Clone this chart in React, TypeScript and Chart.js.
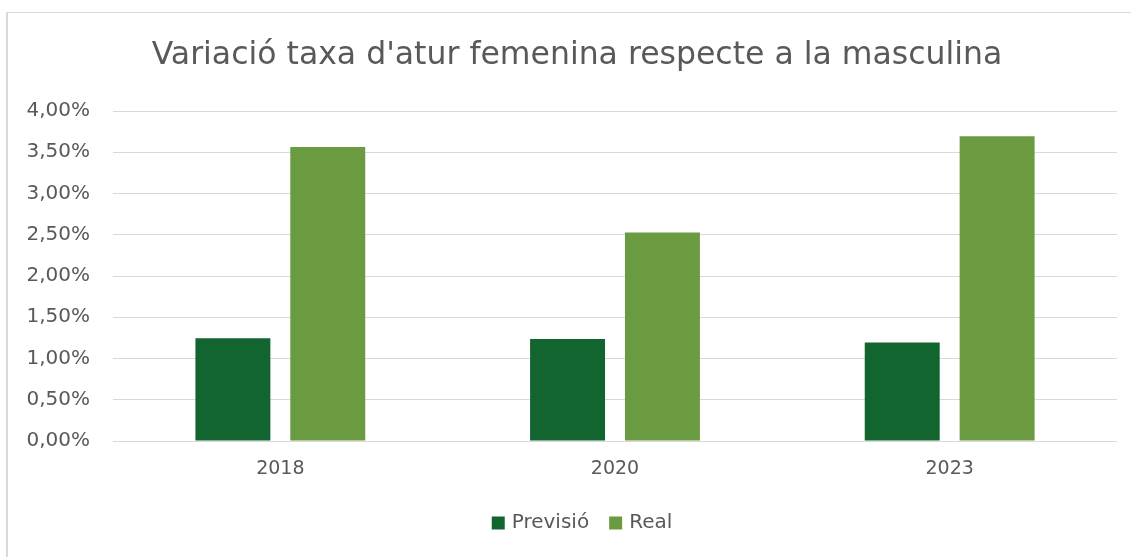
import React, { useEffect, useRef } from "react";
import { Chart, registerables } from "chart.js";

Chart.register(...registerables);

const categories = ["2018", "2020", "2023"];
const previsio = [1.244, 1.235, 1.195];
const real = [3.564, 2.527, 3.693];
const seriesNames = ["Previsió", "Real"];
const seriesColors = ["#136530", "#6A9B40"];
const titleText = "Variació taxa d'atur femenina respecte a la masculina";

const W = 1131;
const H = 557;
const FONT = "'DejaVu Sans', 'Liberation Sans', sans-serif";
const TEXT = "#595959";

const titleAndLegend = {
  id: "titleAndLegend",
  afterDraw(chart: any) {
    const ctx = chart.ctx as CanvasRenderingContext2D;
    ctx.save();
    ctx.fillStyle = TEXT;
    ctx.font = `31.5px ${FONT}`;
    ctx.textAlign = "center";
    ctx.textBaseline = "middle";
    ctx.fillText(titleText, 577, 56);

    ctx.font = `20px ${FONT}`;
    ctx.textAlign = "left";
    const box = 13;
    const gap = 7;
    const sep = 20;
    const items = chart.data.datasets.map((d: any) => ({
      label: d.label as string,
      color: d.backgroundColor as string,
      w: ctx.measureText(d.label).width,
    }));
    const total =
      items.reduce((s: number, it: any) => s + box + gap + it.w, 0) + sep * (items.length - 1);
    let x = 582 - total / 2;
    const cy = 523;
    items.forEach((it: any) => {
      ctx.fillStyle = it.color;
      ctx.fillRect(x, cy - box / 2, box, box);
      ctx.fillStyle = TEXT;
      ctx.fillText(it.label, x + box + gap, cy);
      x += box + gap + it.w + sep;
    });
    ctx.restore();
  },
};

export default function App() {
  const ref = useRef<HTMLCanvasElement | null>(null);

  useEffect(() => {
    if (!ref.current) return;
    const chart = new Chart(ref.current, {
      type: "bar",
      data: {
        labels: categories,
        datasets: [
          {
            label: seriesNames[0],
            data: previsio,
            backgroundColor: seriesColors[0],
            borderWidth: 0,
            categoryPercentage: 0.567,
            barPercentage: 0.79,
          },
          {
            label: seriesNames[1],
            data: real,
            backgroundColor: seriesColors[1],
            borderWidth: 0,
            categoryPercentage: 0.567,
            barPercentage: 0.79,
          },
        ],
      },
      options: {
        responsive: false,
        animation: false,
        devicePixelRatio: 1,
        layout: { padding: { left: 0, right: 14, top: 111, bottom: 64.5 } },
        plugins: {
          title: { display: false },
          legend: { display: false },
          tooltip: { enabled: false },
        },
        scales: {
          x: {
            grid: { display: false, drawTicks: false },
            border: { display: false },
            ticks: {
              color: TEXT,
              font: { family: FONT, size: 19 },
              padding: 17,
            },
            afterFit: (scale: any) => {
              scale.height = 51.5;
            },
          },
          y: {
            min: 0,
            max: 4,
            grid: { color: "#D9D9D9", lineWidth: 1, drawTicks: false },
            border: { display: false },
            ticks: {
              stepSize: 0.5,
              color: TEXT,
              font: { family: FONT, size: 20 },
              padding: 23,
              callback: (v: any) => Number(v).toFixed(2).replace(".", ",") + "%",
            },
            afterFit: (scale: any) => {
              scale.width = 113;
            },
          },
        },
      },
      plugins: [titleAndLegend],
    });
    return () => chart.destroy();
  }, []);

  return (
    <div
      style={{
        position: "fixed",
        left: 0,
        top: 0,
        width: W,
        height: H,
        overflow: "hidden",
        background: "#fff",
      }}
    >
      <div
        style={{
          position: "absolute",
          left: 6,
          top: 12,
          right: -10,
          bottom: -10,
          borderLeft: "2px solid #D9D9D9",
          borderTop: "1px solid #D9D9D9",
        }}
      />
      <canvas
        ref={ref}
        width={W}
        height={H}
        style={{ position: "absolute", left: 0, top: 0, width: W, height: H }}
      />
    </div>
  );
}
